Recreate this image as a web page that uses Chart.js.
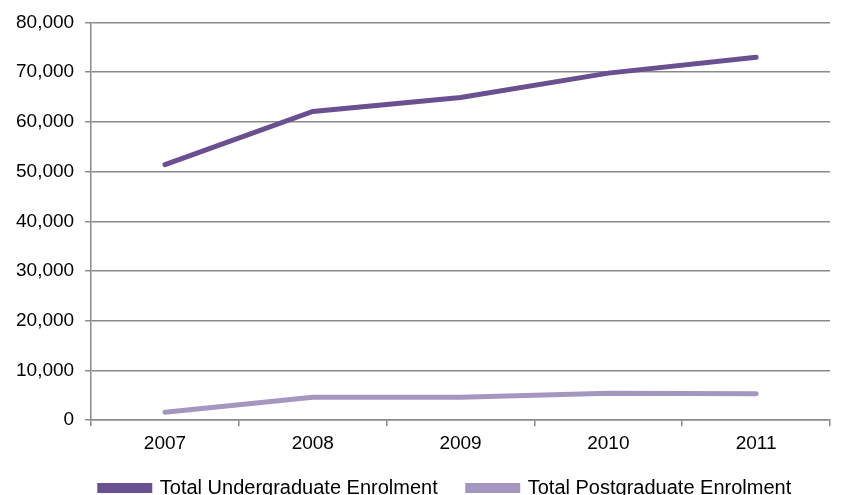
<!DOCTYPE html>
<html>
<head>
<meta charset="utf-8">
<script src="https://cdn.jsdelivr.net/npm/chart.js@4.4.0/dist/chart.umd.min.js"></script>
<style>
  html, body { margin: 0; padding: 0; background: #fff; }
  #wrap { width: 845px; height: 495px; position: relative; }
</style>
</head>
<body>
<div id="wrap"><canvas id="chart"></canvas></div>
<script>
// enrolment per year
const years = ['2007', '2008', '2009', '2010', '2011'];
const undergraduate = [51400, 62100, 64900, 69800, 73000];
const postgraduate = [1600, 4600, 4600, 5400, 5300];

const corGrade = '#8a8a8a';
const fonte = "'Liberation Sans', Arial, sans-serif";

// puxa a legenda para perto do eixo x e um pouco para a direita
const ajusteLegenda = {
  id: 'ajusteLegenda',
  afterLayout(chart) {
    const l = chart.legend;
    l.top -= 13; l.bottom -= 13;
    l.left += 28; l.right += 28;
  }
};

const data = {
  labels: years,
  datasets: [{
    label: 'Total Undergraduate Enrolment',
    data: undergraduate,
    borderColor: '#6a5090',
    backgroundColor: '#6a5090',
    borderWidth: 5,
    borderCapStyle: 'round',
    pointRadius: 0,
    tension: 0
  }, {
    label: 'Total Postgraduate Enrolment',
    data: postgraduate,
    borderColor: '#a596c0',
    backgroundColor: '#a596c0',
    borderWidth: 5,
    borderCapStyle: 'round',
    pointRadius: 0,
    tension: 0
  }]
};

const config = {
  type: 'line',
  data: data,
  plugins: [ajusteLegenda],
  options: {
    responsive: true,
    maintainAspectRatio: false,
    animation: false,
    layout: { padding: { top: 10, right: 15, left: 5, bottom: -26 } },
    scales: {
      x: {
        offset: true,
        grid: { offset: true, drawOnChartArea: false, color: corGrade, tickLength: 6, lineWidth: 1.5 },
        border: { color: corGrade, width: 1.5 },
        ticks: { color: '#000', font: { family: fonte, size: 19 }, padding: 6 }
      },
      y: {
        min: 0,
        max: 80000,
        ticks: {
          stepSize: 10000,
          color: '#000',
          font: { family: fonte, size: 19 },
          padding: 11,
          callback: v => v.toLocaleString('en-US')
        },
        grid: { color: corGrade, lineWidth: 1.5, tickLength: 6 },
        border: { color: corGrade, width: 1.5 }
      }
    },
    plugins: {
      legend: {
        position: 'bottom',
        labels: {
          boxWidth: 50,
          boxHeight: 5,
          padding: 30,
          color: '#000',
          font: { family: fonte, size: 20 }
        }
      },
      tooltip: { enabled: false }
    }
  }
};

const myChart = new Chart(document.getElementById('chart'), config);
</script>
</body>
</html>
